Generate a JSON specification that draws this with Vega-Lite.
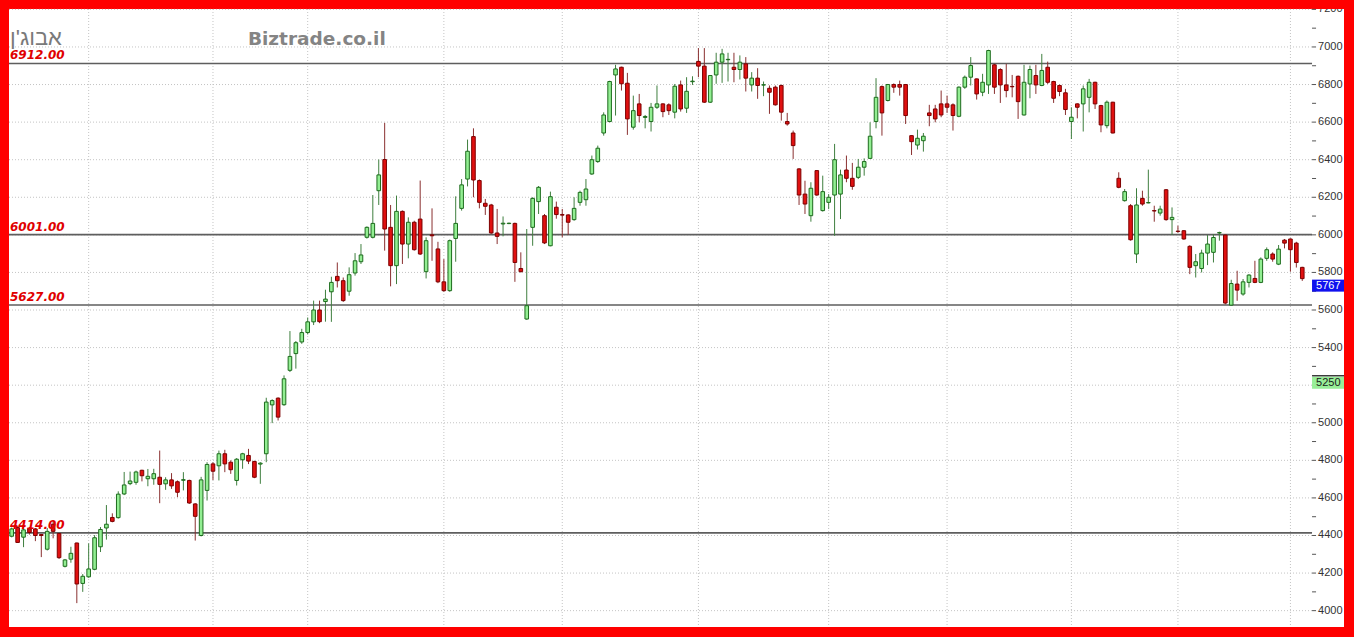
{
  "$schema": "https://vega.github.io/schema/vega-lite/v6.json",
  "width": 1335,
  "height": 618,
  "autosize": {"type": "none"},
  "padding": {"left": 9, "top": 9, "right": 10, "bottom": 10},
  "background": "#ff0000",
  "config": {
    "view": {"fill": "#ffffff", "stroke": null}
  },
  "datasets": {
    "quotes": [
      {"i":0,"o":4396,"h":4442,"l":4390,"c":4435},{"i":1,"o":4442,"h":4450,"l":4360,"c":4363},{"i":2,"o":4391,"h":4445,"l":4338,"c":4430},{"i":3,"o":4436,"h":4445,"l":4405,"c":4416},{"i":4,"o":4435,"h":4440,"l":4370,"c":4400},
      {"i":5,"o":4405,"h":4408,"l":4285,"c":4400},{"i":6,"o":4327,"h":4440,"l":4320,"c":4422},{"i":7,"o":4460,"h":4480,"l":4385,"c":4422},{"i":8,"o":4411,"h":4413,"l":4275,"c":4282},{"i":9,"o":4236,"h":4275,"l":4230,"c":4270},
      {"i":10,"o":4274,"h":4340,"l":4255,"c":4305},{"i":11,"o":4360,"h":4362,"l":4040,"c":4142},{"i":12,"o":4145,"h":4195,"l":4100,"c":4183},{"i":13,"o":4180,"h":4358,"l":4175,"c":4222},{"i":14,"o":4220,"h":4402,"l":4215,"c":4388},
      {"i":15,"o":4340,"h":4445,"l":4312,"c":4432},{"i":16,"o":4440,"h":4562,"l":4378,"c":4460},{"i":17,"o":4496,"h":4518,"l":4470,"c":4475},{"i":18,"o":4495,"h":4635,"l":4490,"c":4620},{"i":19,"o":4621,"h":4738,"l":4615,"c":4669},
      {"i":20,"o":4676,"h":4740,"l":4668,"c":4690},{"i":21,"o":4683,"h":4745,"l":4670,"c":4738},{"i":22,"o":4747,"h":4750,"l":4688,"c":4718},{"i":23,"o":4702,"h":4754,"l":4662,"c":4715},{"i":24,"o":4702,"h":4755,"l":4670,"c":4729},
      {"i":25,"o":4710,"h":4852,"l":4572,"c":4672},{"i":26,"o":4675,"h":4710,"l":4643,"c":4696},{"i":27,"o":4696,"h":4732,"l":4648,"c":4664},{"i":28,"o":4686,"h":4693,"l":4604,"c":4630},{"i":29,"o":4694,"h":4737,"l":4640,"c":4697},
      {"i":30,"o":4693,"h":4697,"l":4568,"c":4573},{"i":31,"o":4568,"h":4572,"l":4373,"c":4502},{"i":32,"o":4400,"h":4712,"l":4395,"c":4696},{"i":33,"o":4640,"h":4790,"l":4586,"c":4778},{"i":34,"o":4781,"h":4790,"l":4695,"c":4742},
      {"i":35,"o":4771,"h":4852,"l":4693,"c":4835},{"i":36,"o":4835,"h":4856,"l":4737,"c":4781},{"i":37,"o":4790,"h":4800,"l":4728,"c":4750},{"i":38,"o":4693,"h":4812,"l":4666,"c":4806},{"i":39,"o":4803,"h":4840,"l":4755,"c":4835},
      {"i":40,"o":4826,"h":4861,"l":4780,"c":4796},{"i":41,"o":4794,"h":4798,"l":4705,"c":4710},{"i":42,"o":4780,"h":4790,"l":4675,"c":4785},{"i":43,"o":4835,"h":5133,"l":4790,"c":5110},{"i":44,"o":5095,"h":5125,"l":4998,"c":5118},
      {"i":45,"o":5131,"h":5135,"l":5012,"c":5030},{"i":46,"o":5096,"h":5252,"l":5090,"c":5234},{"i":47,"o":5279,"h":5488,"l":5270,"c":5353},{"i":48,"o":5368,"h":5435,"l":5288,"c":5426},{"i":49,"o":5430,"h":5500,"l":5420,"c":5480},
      {"i":50,"o":5480,"h":5560,"l":5470,"c":5537},{"i":51,"o":5537,"h":5650,"l":5520,"c":5600},{"i":52,"o":5600,"h":5650,"l":5530,"c":5538},{"i":53,"o":5645,"h":5708,"l":5538,"c":5658},{"i":54,"o":5697,"h":5777,"l":5537,"c":5747},
      {"i":55,"o":5779,"h":5853,"l":5720,"c":5756},{"i":56,"o":5756,"h":5773,"l":5643,"c":5650},{"i":57,"o":5700,"h":5827,"l":5676,"c":5788},{"i":58,"o":5797,"h":5903,"l":5783,"c":5862},{"i":59,"o":5857,"h":5951,"l":5845,"c":5893},
      {"i":60,"o":5987,"h":6045,"l":5980,"c":6040},{"i":61,"o":5987,"h":6212,"l":5981,"c":6061},{"i":62,"o":6235,"h":6401,"l":6159,"c":6319},{"i":63,"o":6401,"h":6596,"l":5916,"c":6031},{"i":64,"o":6040,"h":6159,"l":5726,"c":5836},
      {"i":65,"o":5836,"h":6209,"l":5738,"c":6125},{"i":66,"o":6125,"h":6130,"l":5845,"c":5951},{"i":67,"o":5951,"h":6093,"l":5875,"c":6067},{"i":68,"o":6067,"h":6075,"l":5916,"c":5921},{"i":69,"o":6084,"h":6289,"l":5893,"c":5898},
      {"i":70,"o":5804,"h":5987,"l":5768,"c":5969},{"i":71,"o":6000,"h":6141,"l":5862,"c":5995},{"i":72,"o":5925,"h":5963,"l":5743,"c":5750},{"i":73,"o":5750,"h":5871,"l":5697,"c":5703},{"i":74,"o":5703,"h":5975,"l":5697,"c":5969},
      {"i":75,"o":5981,"h":6205,"l":5857,"c":6061},{"i":76,"o":6141,"h":6297,"l":6129,"c":6266},{"i":77,"o":6297,"h":6507,"l":6258,"c":6445},{"i":78,"o":6523,"h":6567,"l":6200,"c":6292},{"i":79,"o":6289,"h":6295,"l":6141,"c":6173},
      {"i":80,"o":6168,"h":6191,"l":6106,"c":6152},{"i":81,"o":6159,"h":6165,"l":6005,"c":6010},{"i":82,"o":6010,"h":6138,"l":5951,"c":5992},{"i":83,"o":6058,"h":6098,"l":5992,"c":6062},{"i":84,"o":6060,"h":6065,"l":6057,"c":6062},
      {"i":85,"o":6061,"h":6065,"l":5750,"c":5853},{"i":86,"o":5821,"h":5907,"l":5800,"c":5804},{"i":87,"o":5552,"h":6031,"l":5548,"c":5623},{"i":88,"o":6040,"h":6200,"l":5942,"c":6194},{"i":89,"o":6177,"h":6260,"l":6111,"c":6253},
      {"i":90,"o":6102,"h":6111,"l":5951,"c":5957},{"i":91,"o":5942,"h":6230,"l":5939,"c":6203},{"i":92,"o":6147,"h":6177,"l":6086,"c":6108},{"i":93,"o":6108,"h":6138,"l":5987,"c":6105},{"i":94,"o":6106,"h":6110,"l":6000,"c":6067},
      {"i":95,"o":6081,"h":6200,"l":6075,"c":6141},{"i":96,"o":6173,"h":6235,"l":6155,"c":6226},{"i":97,"o":6187,"h":6297,"l":6155,"c":6244},{"i":98,"o":6324,"h":6422,"l":6319,"c":6400},{"i":99,"o":6390,"h":6475,"l":6383,"c":6461},
      {"i":100,"o":6542,"h":6652,"l":6528,"c":6638},{"i":101,"o":6603,"h":6820,"l":6599,"c":6816},{"i":102,"o":6851,"h":6905,"l":6635,"c":6883},{"i":103,"o":6892,"h":6895,"l":6768,"c":6804},{"i":104,"o":6807,"h":6862,"l":6532,"c":6617},
      {"i":105,"o":6573,"h":6741,"l":6560,"c":6661},{"i":106,"o":6697,"h":6750,"l":6599,"c":6635},{"i":107,"o":6625,"h":6638,"l":6567,"c":6630},{"i":108,"o":6603,"h":6702,"l":6550,"c":6679},{"i":109,"o":6679,"h":6795,"l":6670,"c":6697},
      {"i":110,"o":6697,"h":6700,"l":6626,"c":6656},{"i":111,"o":6692,"h":6700,"l":6638,"c":6661},{"i":112,"o":6653,"h":6803,"l":6620,"c":6791},{"i":113,"o":6798,"h":6821,"l":6656,"c":6670},{"i":114,"o":6674,"h":6839,"l":6649,"c":6764},
      {"i":115,"o":6815,"h":6844,"l":6798,"c":6818},{"i":116,"o":6923,"h":6994,"l":6839,"c":6898},{"i":117,"o":6898,"h":6994,"l":6702,"c":6706},{"i":118,"o":6706,"h":6850,"l":6702,"c":6848},{"i":119,"o":6851,"h":6969,"l":6804,"c":6919},
      {"i":120,"o":6919,"h":6990,"l":6809,"c":6963},{"i":121,"o":6932,"h":6969,"l":6816,"c":6934},{"i":122,"o":6892,"h":6969,"l":6812,"c":6880},{"i":123,"o":6880,"h":6955,"l":6827,"c":6919},{"i":124,"o":6910,"h":6946,"l":6763,"c":6834},
      {"i":125,"o":6798,"h":6866,"l":6763,"c":6834},{"i":126,"o":6834,"h":6887,"l":6724,"c":6795},{"i":127,"o":6797,"h":6816,"l":6738,"c":6799},{"i":128,"o":6780,"h":6795,"l":6644,"c":6759},{"i":129,"o":6786,"h":6795,"l":6688,"c":6692},
      {"i":130,"o":6795,"h":6800,"l":6608,"c":6653},{"i":131,"o":6603,"h":6649,"l":6581,"c":6590},{"i":132,"o":6542,"h":6555,"l":6404,"c":6475},{"i":133,"o":6351,"h":6355,"l":6159,"c":6212},{"i":134,"o":6217,"h":6288,"l":6111,"c":6164},
      {"i":135,"o":6102,"h":6280,"l":6070,"c":6248},{"i":136,"o":6342,"h":6345,"l":6208,"c":6212},{"i":137,"o":6129,"h":6315,"l":6124,"c":6230},{"i":138,"o":6173,"h":6217,"l":6137,"c":6200},{"i":139,"o":6212,"h":6484,"l":5995,"c":6400},
      {"i":140,"o":6217,"h":6347,"l":6084,"c":6319},{"i":141,"o":6345,"h":6422,"l":6280,"c":6301},{"i":142,"o":6301,"h":6383,"l":6240,"c":6258},{"i":143,"o":6306,"h":6404,"l":6297,"c":6360},{"i":144,"o":6360,"h":6407,"l":6315,"c":6390},
      {"i":145,"o":6407,"h":6599,"l":6404,"c":6525},{"i":146,"o":6603,"h":6834,"l":6567,"c":6732},{"i":147,"o":6789,"h":6795,"l":6528,"c":6649},{"i":148,"o":6715,"h":6803,"l":6710,"c":6800},{"i":149,"o":6800,"h":6806,"l":6756,"c":6786},
      {"i":150,"o":6800,"h":6821,"l":6741,"c":6786},{"i":151,"o":6800,"h":6803,"l":6590,"c":6635},{"i":152,"o":6528,"h":6530,"l":6425,"c":6496},{"i":153,"o":6478,"h":6560,"l":6454,"c":6514},{"i":154,"o":6501,"h":6542,"l":6443,"c":6525},
      {"i":155,"o":6649,"h":6692,"l":6578,"c":6635},{"i":156,"o":6670,"h":6692,"l":6599,"c":6617},{"i":157,"o":6697,"h":6768,"l":6626,"c":6638},{"i":158,"o":6697,"h":6741,"l":6649,"c":6679},{"i":159,"o":6692,"h":6700,"l":6555,"c":6635},
      {"i":160,"o":6631,"h":6790,"l":6626,"c":6786},{"i":161,"o":6786,"h":6848,"l":6777,"c":6839},{"i":162,"o":6839,"h":6946,"l":6795,"c":6901},{"i":163,"o":6830,"h":6832,"l":6720,"c":6750},{"i":164,"o":6759,"h":6857,"l":6738,"c":6812},
      {"i":165,"o":6798,"h":6985,"l":6750,"c":6981},{"i":166,"o":6905,"h":6910,"l":6750,"c":6786},{"i":167,"o":6880,"h":6887,"l":6702,"c":6798},{"i":168,"o":6798,"h":6910,"l":6732,"c":6768},{"i":169,"o":6790,"h":6851,"l":6732,"c":6788},
      {"i":170,"o":6844,"h":6848,"l":6617,"c":6709},{"i":171,"o":6638,"h":6905,"l":6635,"c":6812},{"i":172,"o":6803,"h":6901,"l":6727,"c":6880},{"i":173,"o":6848,"h":6905,"l":6750,"c":6798},{"i":174,"o":6795,"h":6963,"l":6791,"c":6875},
      {"i":175,"o":6892,"h":6922,"l":6803,"c":6812},{"i":176,"o":6816,"h":6820,"l":6702,"c":6727},{"i":177,"o":6795,"h":6800,"l":6738,"c":6763},{"i":178,"o":6756,"h":6777,"l":6638,"c":6667},{"i":179,"o":6603,"h":6679,"l":6510,"c":6626},
      {"i":180,"o":6697,"h":6700,"l":6620,"c":6679},{"i":181,"o":6697,"h":6795,"l":6550,"c":6777},{"i":182,"o":6732,"h":6830,"l":6652,"c":6812},{"i":183,"o":6812,"h":6815,"l":6670,"c":6697},{"i":184,"o":6688,"h":6692,"l":6546,"c":6585},
      {"i":185,"o":6581,"h":6715,"l":6567,"c":6706},{"i":186,"o":6706,"h":6708,"l":6540,"c":6542},{"i":187,"o":6301,"h":6333,"l":6248,"c":6253},{"i":188,"o":6182,"h":6244,"l":6177,"c":6230},{"i":189,"o":6155,"h":6164,"l":5969,"c":5974},
      {"i":190,"o":5898,"h":6248,"l":5850,"c":6159},{"i":191,"o":6194,"h":6235,"l":6155,"c":6164},{"i":192,"o":6170,"h":6347,"l":6168,"c":6172},{"i":193,"o":6129,"h":6155,"l":6070,"c":6127},{"i":194,"o":6116,"h":6155,"l":6102,"c":6137},
      {"i":195,"o":6240,"h":6244,"l":6075,"c":6081},{"i":196,"o":6081,"h":6146,"l":5999,"c":6093},{"i":197,"o":6020,"h":6049,"l":6010,"c":6018},{"i":198,"o":6022,"h":6025,"l":5974,"c":5978},{"i":199,"o":5939,"h":5945,"l":5791,"c":5827},
      {"i":200,"o":5836,"h":5898,"l":5773,"c":5857},{"i":201,"o":5821,"h":5921,"l":5800,"c":5903},{"i":202,"o":5903,"h":5999,"l":5839,"c":5951},{"i":203,"o":5907,"h":6004,"l":5853,"c":5986},{"i":204,"o":6010,"h":6017,"l":5969,"c":6012},
      {"i":205,"o":5999,"h":6002,"l":5630,"c":5637},{"i":206,"o":5626,"h":5761,"l":5622,"c":5741},{"i":207,"o":5738,"h":5809,"l":5649,"c":5706},{"i":208,"o":5685,"h":5765,"l":5676,"c":5750},{"i":209,"o":5747,"h":5791,"l":5720,"c":5786},
      {"i":210,"o":5768,"h":5862,"l":5743,"c":5747},{"i":211,"o":5747,"h":5880,"l":5743,"c":5871},{"i":212,"o":5875,"h":5933,"l":5862,"c":5921},{"i":213,"o":5898,"h":5907,"l":5857,"c":5871},{"i":214,"o":5844,"h":5946,"l":5839,"c":5924},
      {"i":215,"o":5972,"h":5978,"l":5928,"c":5956},{"i":216,"o":5978,"h":5981,"l":5804,"c":5921},{"i":217,"o":5956,"h":5963,"l":5826,"c":5853},{"i":218,"o":5827,"h":5830,"l":5755,"c":5767}
    ],
    "levels": [{"level": 6912}, {"level": 6001}, {"level": 5627}, {"level": 4414}],
    "priceGrid": [
      {"p": 4000}, {"p": 4200}, {"p": 4400}, {"p": 4600}, {"p": 4800}, {"p": 5000}, {"p": 5200}, {"p": 5400},
      {"p": 5600}, {"p": 5800}, {"p": 6000}, {"p": 6200}, {"p": 6400}, {"p": 6600}, {"p": 6800}, {"p": 7000}, {"p": 7200}
    ],
    "priceTicks": [
      {"p": 4000}, {"p": 4100}, {"p": 4200}, {"p": 4300}, {"p": 4400}, {"p": 4500}, {"p": 4600}, {"p": 4700}, {"p": 4800}, {"p": 4900},
      {"p": 5000}, {"p": 5100}, {"p": 5200}, {"p": 5300}, {"p": 5400}, {"p": 5500}, {"p": 5600}, {"p": 5700}, {"p": 5800}, {"p": 5900},
      {"p": 6000}, {"p": 6100}, {"p": 6200}, {"p": 6300}, {"p": 6400}, {"p": 6500}, {"p": 6600}, {"p": 6700}, {"p": 6800}, {"p": 6900},
      {"p": 7000}, {"p": 7100}, {"p": 7200}
    ],
    "monthStarts": [{"i": 13}, {"i": 34}, {"i": 50}, {"i": 73}, {"i": 93}, {"i": 116}, {"i": 138}, {"i": 158}, {"i": 179}, {"i": 197}, {"i": 216}],
    "tags": [{"v": 5767, "kind": "last"}, {"v": 5250, "kind": "mark"}]
  },
  "layer": [
    {
      "data": {"name": "priceGrid"},
      "mark": {"type": "rule", "color": "#c4c4c4", "strokeWidth": 1, "strokeDash": [1, 2]},
      "encoding": {
        "y": {"field": "p", "type": "quantitative", "scale": {"domain": [3913, 7202], "nice": false, "zero": false}, "axis": null},
        "x": {"datum": -0.456, "type": "quantitative", "scale": {"domain": [-0.456, 225.05], "nice": false, "zero": false, "padding": 0}, "axis": null},
        "x2": {"datum": 219.65}
      }
    },
    {
      "data": {"name": "monthStarts"},
      "mark": {"type": "rule", "color": "#c4c4c4", "strokeWidth": 1, "strokeDash": [1, 2]},
      "encoding": {
        "x": {"field": "i", "type": "quantitative", "scale": {"domain": [-0.456, 225.05], "nice": false, "zero": false, "padding": 0}, "axis": null}
      }
    },
    {
      "data": {"name": "levels"},
      "mark": {"type": "rule", "color": "#5e5e5e", "strokeWidth": 1.6},
      "encoding": {
        "y": {"field": "level", "type": "quantitative", "scale": {"domain": [3913, 7202], "nice": false, "zero": false}, "axis": null},
        "x": {"datum": -0.456, "type": "quantitative", "scale": {"domain": [-0.456, 225.05], "nice": false, "zero": false, "padding": 0}, "axis": null},
        "x2": {"datum": 219.65}
      }
    },
    {
      "data": {"name": "quotes"},
      "mark": {"type": "rule", "strokeWidth": 1},
      "encoding": {
        "x": {"field": "i", "type": "quantitative", "scale": {"domain": [-0.456, 225.05], "nice": false, "zero": false, "padding": 0}, "axis": null},
        "y": {"field": "l", "type": "quantitative", "scale": {"domain": [3913, 7202], "nice": false, "zero": false}, "axis": null},
        "y2": {"field": "h"},
        "color": {"condition": {"test": "datum.c >= datum.o", "value": "#3f7f3f"}, "value": "#8a3030"}
      }
    },
    {
      "data": {"name": "quotes"},
      "mark": {"type": "bar", "size": 3.6, "strokeWidth": 1},
      "encoding": {
        "x": {"field": "i", "type": "quantitative", "scale": {"domain": [-0.456, 225.05], "nice": false, "zero": false, "padding": 0}, "axis": null},
        "y": {"field": "o", "type": "quantitative", "scale": {"domain": [3913, 7202], "nice": false, "zero": false}, "axis": null},
        "y2": {"field": "c"},
        "fill": {"condition": {"test": "datum.c >= datum.o", "value": "#92ee92"}, "value": "#e01010"},
        "stroke": {"condition": {"test": "datum.c >= datum.o", "value": "#1d6b1d"}, "value": "#7d0000"}
      }
    },
    {
      "data": {"name": "levels"},
      "mark": {"type": "text", "align": "left", "baseline": "alphabetic", "dx": 1, "dy": -4, "font": "DejaVu Sans", "fontSize": 12, "fontWeight": "bold", "fontStyle": "italic", "color": "#e00000"},
      "encoding": {
        "y": {"field": "level", "type": "quantitative", "scale": {"domain": [3913, 7202], "nice": false, "zero": false}, "axis": null},
        "x": {"datum": -0.456, "type": "quantitative", "scale": {"domain": [-0.456, 225.05], "nice": false, "zero": false, "padding": 0}, "axis": null},
        "text": {"field": "level", "type": "quantitative", "format": ".2f"}
      }
    },
    {
      "mark": {"type": "rule", "color": "#555555", "strokeWidth": 1},
      "encoding": {
        "x": {"datum": 219.65, "type": "quantitative", "scale": {"domain": [-0.456, 225.05], "nice": false, "zero": false, "padding": 0}, "axis": null}
      }
    },
    {
      "data": {"name": "priceTicks"},
      "mark": {"type": "rule", "color": "#555555", "strokeWidth": 1},
      "encoding": {
        "y": {"field": "p", "type": "quantitative", "scale": {"domain": [3913, 7202], "nice": false, "zero": false}, "axis": null},
        "x": {"datum": 219.65, "type": "quantitative", "scale": {"domain": [-0.456, 225.05], "nice": false, "zero": false, "padding": 0}, "axis": null},
        "x2": {"datum": 220.33}
      }
    },
    {
      "data": {"name": "priceGrid"},
      "mark": {"type": "text", "align": "left", "baseline": "middle", "dx": 6, "font": "Liberation Sans", "fontSize": 11, "color": "#333333", "clip": true},
      "encoding": {
        "y": {"field": "p", "type": "quantitative", "scale": {"domain": [3913, 7202], "nice": false, "zero": false}, "axis": null},
        "x": {"datum": 219.65, "type": "quantitative", "scale": {"domain": [-0.456, 225.05], "nice": false, "zero": false, "padding": 0}, "axis": null},
        "text": {"field": "p", "type": "quantitative", "format": "d"}
      }
    },
    {
      "data": {"name": "tags"},
      "mark": {"type": "rect", "yOffset": 1, "y2Offset": 13},
      "encoding": {
        "y": {"field": "v", "type": "quantitative", "scale": {"domain": [3913, 7202], "nice": false, "zero": false}, "axis": null},
        "y2": {"field": "v"},
        "x": {"datum": 219.65, "type": "quantitative", "scale": {"domain": [-0.456, 225.05], "nice": false, "zero": false, "padding": 0}, "axis": null},
        "x2": {"datum": 225.05},
        "fill": {"condition": {"test": "datum.kind === 'last'", "value": "#1010ee"}, "value": "#98ee98"}
      }
    },
    {
      "data": {"name": "tags"},
      "transform": [{"filter": "datum.kind === 'mark'"}],
      "mark": {"type": "rule", "color": "#111111", "strokeWidth": 1.2},
      "encoding": {
        "y": {"field": "v", "type": "quantitative", "scale": {"domain": [3913, 7202], "nice": false, "zero": false}, "axis": null},
        "x": {"datum": 219.65, "type": "quantitative", "scale": {"domain": [-0.456, 225.05], "nice": false, "zero": false, "padding": 0}, "axis": null},
        "x2": {"datum": 225.05}
      }
    },
    {
      "data": {"name": "tags"},
      "mark": {"type": "text", "align": "left", "baseline": "middle", "dx": 4, "dy": 7, "font": "Liberation Sans", "fontSize": 11},
      "encoding": {
        "y": {"field": "v", "type": "quantitative", "scale": {"domain": [3913, 7202], "nice": false, "zero": false}, "axis": null},
        "x": {"datum": 219.65, "type": "quantitative", "scale": {"domain": [-0.456, 225.05], "nice": false, "zero": false, "padding": 0}, "axis": null},
        "text": {"field": "v", "type": "quantitative", "format": "d"},
        "fill": {"condition": {"test": "datum.kind === 'last'", "value": "#ffffff"}, "value": "#1a1a1a"}
      }
    },
    {
      "data": {"values": [{"name": "Biztrade.co.il"}]},
      "mark": {"type": "text", "align": "left", "baseline": "alphabetic", "font": "DejaVu Sans", "fontSize": 18.5, "fontWeight": "bold", "color": "#848484"},
      "encoding": {
        "x": {"datum": 39.9, "type": "quantitative", "scale": {"domain": [-0.456, 225.05], "nice": false, "zero": false, "padding": 0}, "axis": null},
        "y": {"datum": 7010, "type": "quantitative", "scale": {"domain": [3913, 7202], "nice": false, "zero": false}, "axis": null},
        "text": {"field": "name"}
      }
    },
    {
      "data": {"values": [{"name": "אבוג'ן"}]},
      "mark": {"type": "text", "align": "left", "baseline": "alphabetic", "dx": 1, "font": "Liberation Sans", "fontSize": 22, "color": "#7a7a7a"},
      "encoding": {
        "x": {"datum": -0.456, "type": "quantitative", "scale": {"domain": [-0.456, 225.05], "nice": false, "zero": false, "padding": 0}, "axis": null},
        "y": {"datum": 7012, "type": "quantitative", "scale": {"domain": [3913, 7202], "nice": false, "zero": false}, "axis": null},
        "text": {"field": "name"}
      }
    }
  ]
}
